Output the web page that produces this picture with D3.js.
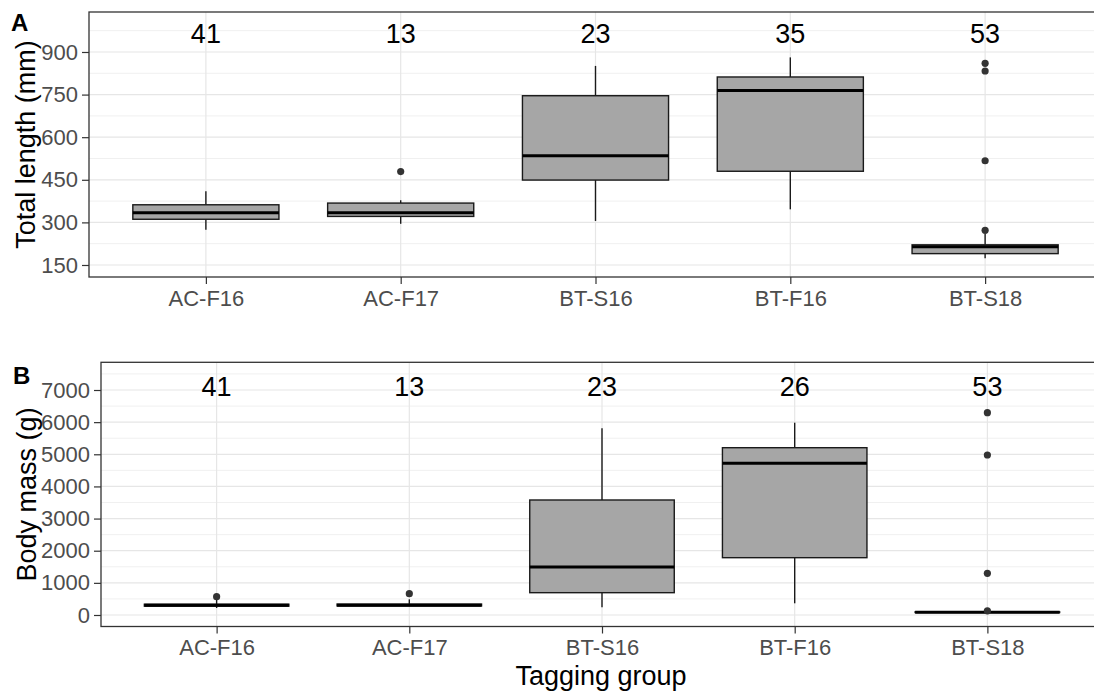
<!DOCTYPE html>
<html>
<head>
<meta charset="utf-8">
<script src="https://cdn.jsdelivr.net/npm/d3@7"></script>
<style>
  body { margin: 0; background: #fff; }
  svg { display: block; }
  text { font-family: "Liberation Sans", Arial, Helvetica, sans-serif; }
</style>
</head>
<body>
<svg id="chart" width="1094" height="693"></svg>
<script>
// Tagging groups on the x axis
const groups = ["AC-F16", "AC-F17", "BT-S16", "BT-F16", "BT-S18"];

// Box summaries per group: [lower whisker, Q1, median, Q3, upper whisker]
const lengthStats = [
  [274, 311, 334, 362, 410],
  [295, 321, 334, 368, 378],
  [305, 449, 535, 746, 851],
  [346, 480, 764, 812, 881],
  [174, 190, 214, 221, 260]
];
const lengthOutliers = [[], [479], [], [], [272, 517, 833, 860]];
const lengthCounts = [41, 13, 23, 35, 53];
const lengthTicks = [150, 300, 450, 600, 750, 900];
const lengthMinor = [225, 375, 525, 675, 825, 975];

const massStats = [
  [218, 275, 300, 335, 470],
  [280, 282, 305, 340, 488],
  [240, 694, 1493, 3578, 5809],
  [364, 1783, 4720, 5205, 5983],
  [55, 78, 88, 97, 112]
];
const massOutliers = [[570], [663], [], [], [130, 1297, 4978, 6294]];
const massCounts = [41, 13, 23, 26, 53];
const massTicks = [0, 1000, 2000, 3000, 4000, 5000, 6000, 7000];
const massMinor = [500, 1500, 2500, 3500, 4500, 5500, 6500, 7500];

const svg = d3.select("#chart");

function drawPanel(cfg) {
  const g = svg.append("g");
  const x = d3.scalePoint().domain(groups).range([cfg.left, cfg.right]).padding(0.6);
  const y = d3.scaleLinear().domain(cfg.domain).range([cfg.bottom, cfg.top]);
  const boxW = x.step() * 0.75;

  // panel background and grid
  g.append("rect")
    .attr("x", cfg.left).attr("y", cfg.top)
    .attr("width", cfg.right - cfg.left).attr("height", cfg.bottom - cfg.top)
    .attr("fill", "#fff");

  g.selectAll(".minor").data(cfg.minor).join("line")
    .attr("x1", cfg.left).attr("x2", cfg.right)
    .attr("y1", d => y(d)).attr("y2", d => y(d))
    .attr("stroke", "#F0F0F0").attr("stroke-width", 1);

  g.selectAll(".major").data(cfg.ticks).join("line")
    .attr("x1", cfg.left).attr("x2", cfg.right)
    .attr("y1", d => y(d)).attr("y2", d => y(d))
    .attr("stroke", "#E6E6E6").attr("stroke-width", 1.2);

  g.selectAll(".vgrid").data(groups).join("line")
    .attr("x1", d => x(d)).attr("x2", d => x(d))
    .attr("y1", cfg.top).attr("y2", cfg.bottom)
    .attr("stroke", "#E6E6E6").attr("stroke-width", 1.2);

  // boxes
  const rows = groups.map((k, i) => ({ k, s: cfg.stats[i], out: cfg.outliers[i], n: cfg.counts[i] }));
  const box = g.selectAll(".box").data(rows).join("g");

  box.append("line")
    .attr("x1", d => x(d.k)).attr("x2", d => x(d.k))
    .attr("y1", d => y(d.s[3])).attr("y2", d => y(d.s[4]))
    .attr("stroke", "#1A1A1A").attr("stroke-width", 1.4);
  box.append("line")
    .attr("x1", d => x(d.k)).attr("x2", d => x(d.k))
    .attr("y1", d => y(d.s[1])).attr("y2", d => y(d.s[0]))
    .attr("stroke", "#1A1A1A").attr("stroke-width", 1.4);
  box.append("rect")
    .attr("x", d => x(d.k) - boxW / 2).attr("width", boxW)
    .attr("y", d => y(d.s[3])).attr("height", d => y(d.s[1]) - y(d.s[3]))
    .attr("fill", "#A6A6A6").attr("stroke", "#1A1A1A").attr("stroke-width", 1.4);
  box.append("line")
    .attr("x1", d => x(d.k) - boxW / 2).attr("x2", d => x(d.k) + boxW / 2)
    .attr("y1", d => y(d.s[2])).attr("y2", d => y(d.s[2]))
    .attr("stroke", "#000").attr("stroke-width", 3);

  box.selectAll("circle").data(d => d.out.map(v => ({ k: d.k, v }))).join("circle")
    .attr("cx", d => x(d.k)).attr("cy", d => y(d.v)).attr("r", 3.6)
    .attr("fill", "#333");

  // sample sizes
  box.append("text")
    .attr("x", d => x(d.k)).attr("y", y(cfg.countAt)).attr("dy", "0.36em")
    .attr("text-anchor", "middle").attr("font-size", 27).attr("fill", "#000")
    .text(d => d.n);

  // panel border
  g.append("rect")
    .attr("x", cfg.left).attr("y", cfg.top)
    .attr("width", cfg.right - cfg.left).attr("height", cfg.bottom - cfg.top)
    .attr("fill", "none").attr("stroke", "#333").attr("stroke-width", 1.3);

  // axes
  const ya = g.append("g").attr("transform", `translate(${cfg.left},0)`)
    .call(d3.axisLeft(y).tickValues(cfg.ticks).tickSize(7).tickPadding(4).tickFormat(d3.format("d")));
  const xa = g.append("g").attr("transform", `translate(0,${cfg.bottom})`)
    .call(d3.axisBottom(x).tickSize(7).tickPadding(6));
  [ya, xa].forEach(a => {
    a.select(".domain").remove();
    a.selectAll(".tick line").attr("stroke", "#333").attr("stroke-width", 1.2);
    a.selectAll(".tick text").attr("fill", "#4D4D4D").attr("font-size", 22)
      .style("font-family", '"Liberation Sans", Arial, sans-serif');
  });

  // y title
  g.append("text")
    .attr("transform", `translate(${cfg.titleX},${(cfg.top + cfg.bottom) / 2}) rotate(-90)`)
    .attr("text-anchor", "middle").attr("font-size", 27).attr("fill", "#000")
    .text(cfg.title);

  // panel tag
  g.append("text")
    .attr("x", cfg.tagX).attr("y", cfg.tagY)
    .attr("font-size", 24).attr("font-weight", "bold").attr("fill", "#000")
    .text(cfg.tag);

  return x;
}

drawPanel({
  left: 89, right: 1102, top: 12, bottom: 277,
  domain: [107.7, 1040.8],
  ticks: lengthTicks, minor: lengthMinor,
  stats: lengthStats, outliers: lengthOutliers, counts: lengthCounts, countAt: 967,
  title: "Total length (mm)", titleX: 34.5,
  tag: "A", tagX: 11, tagY: 31
});

drawPanel({
  left: 101, right: 1103, top: 362.3, bottom: 626.5,
  domain: [-358, 7862],
  ticks: massTicks, minor: massMinor,
  stats: massStats, outliers: massOutliers, counts: massCounts, countAt: 7128,
  title: "Body mass (g)", titleX: 36,
  tag: "B", tagX: 13, tagY: 384
});

// shared x title
svg.append("text")
  .attr("x", 601).attr("y", 685)
  .attr("text-anchor", "middle").attr("font-size", 27).attr("fill", "#000")
  .text("Tagging group");
</script>
</body>
</html>
